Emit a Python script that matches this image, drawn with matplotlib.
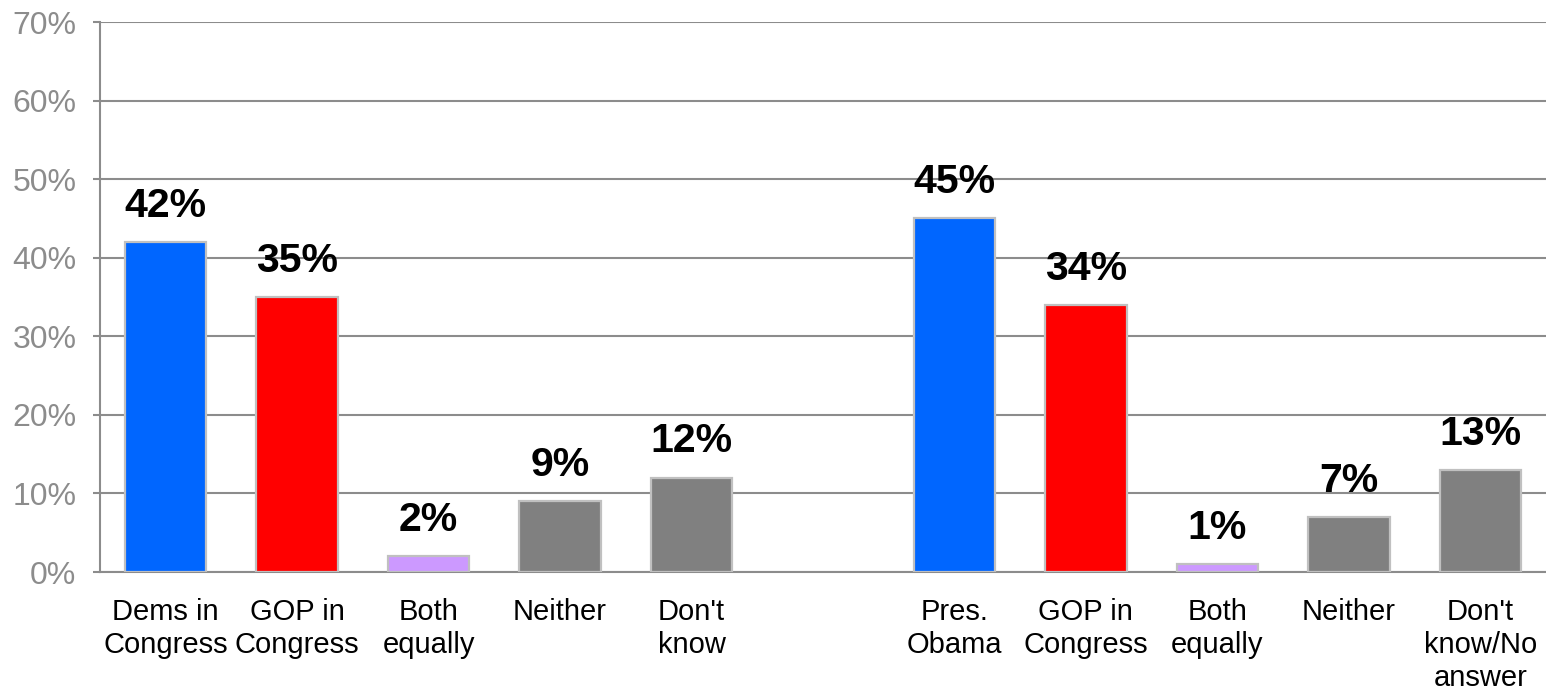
import matplotlib
matplotlib.use("Agg")
import matplotlib.pyplot as plt
from matplotlib.ticker import MultipleLocator, FuncFormatter

plt.rcParams['font.family'] = ['Liberation Sans', 'DejaVu Sans']

left_labels = ["Dems in\nCongress", "GOP in\nCongress", "Both\nequally", "Neither", "Don't\nknow"]
left_values = [42, 35, 2, 9, 12]
right_labels = ["Pres.\nObama", "GOP in\nCongress", "Both\nequally", "Neither", "Don't\nknow/No\nanswer"]
right_values = [45, 34, 1, 7, 13]
bar_colors = ["#0066FF", "#FF0000", "#CC99FF", "#808080", "#808080"]

fig = plt.figure(figsize=(15.46, 6.91), dpi=100)
ax = fig.add_axes([100/1546, (691-572)/691, 1 - 100/1546, 550/691])

left_pos = list(range(len(left_values)))
right_pos = [len(left_values) + 1 + i for i in range(len(right_values))]
positions = left_pos + right_pos
values = left_values + right_values
labels = left_labels + right_labels
colors = bar_colors + bar_colors

ax.bar(positions, values, width=0.62, color=colors, edgecolor="#C0C0C0",
       linewidth=1.6, zorder=3)

for x, v in zip(positions, values):
    ax.text(x, v + 2.2, f"{v}%", ha="center", va="bottom", fontsize=29.5,
            fontweight="bold", color="black", zorder=4)

ax.set_xlim(-0.5, len(positions) + 0.5)
ax.set_ylim(0, 70)
ax.yaxis.set_major_locator(MultipleLocator(10))
ax.yaxis.set_major_formatter(FuncFormatter(lambda v, p: f"{int(v)}%"))
ax.grid(axis="y", color="#8C8C8C", linewidth=1.5, zorder=1)
ax.set_axisbelow(True)

ax.set_xticks(positions)
ax.set_xticklabels(labels, fontsize=21, color="black", linespacing=1.22, va="top")
ax.tick_params(axis="x", length=0, pad=19)
ax.tick_params(axis="y", length=5, width=1.5, color="#8C8C8C", labelcolor="#8C8C8C",
               labelsize=23, pad=12)

for s in ["top", "right"]:
    ax.spines[s].set_visible(False)
for s in ["left", "bottom"]:
    ax.spines[s].set_color("#8C8C8C")
    ax.spines[s].set_linewidth(1.5)

fig.savefig("out.png", dpi=100)
